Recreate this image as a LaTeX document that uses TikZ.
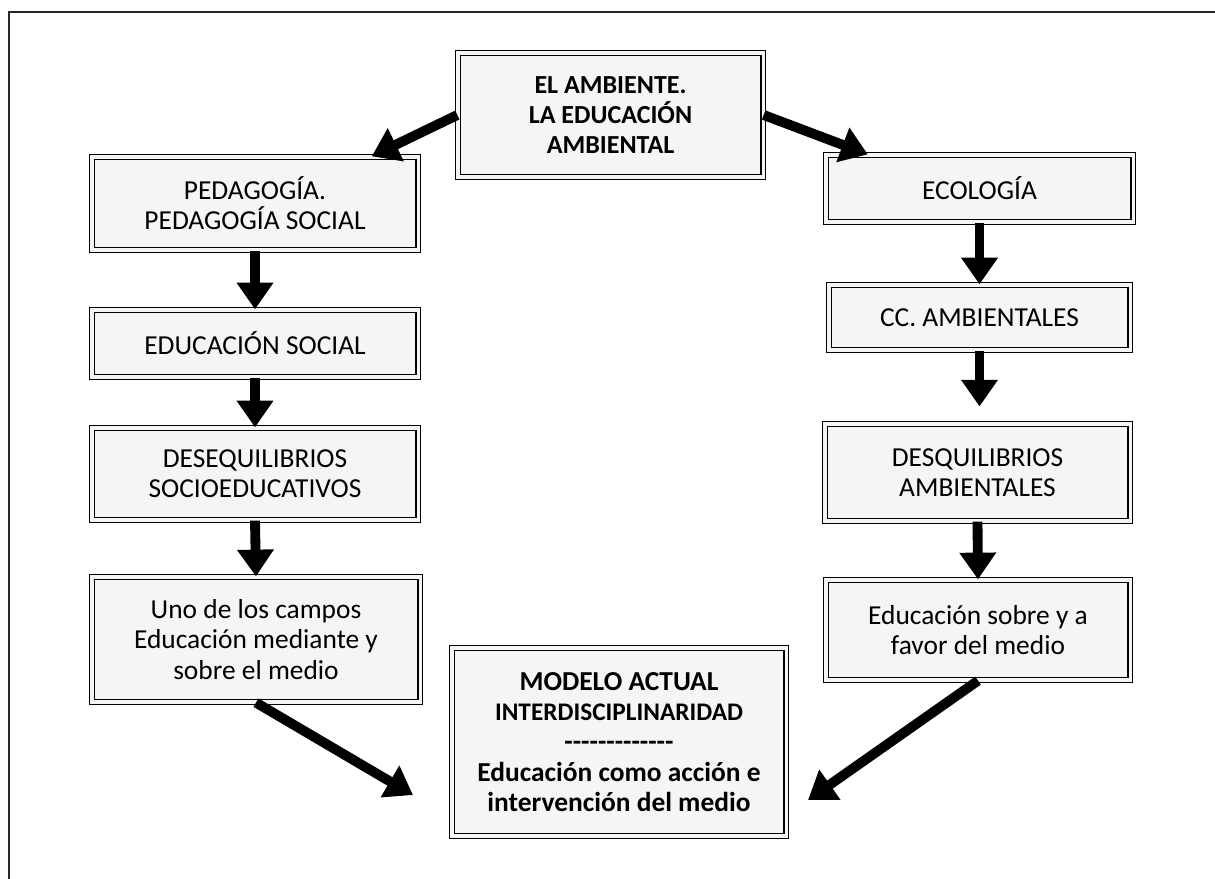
\documentclass[tikz,border=0pt]{standalone}
\usepackage{fontspec}
\setmainfont{Carlito}
\usetikzlibrary{arrows.meta}
\tikzset{
  caja/.style={draw=black, line width=0.9pt, double=gray!8, double distance=2.2pt,
    fill=gray!8, align=center, inner sep=0pt,
    font=\fontsize{19.5}{21.5}\selectfont},
  flecha/.style={line width=7pt, -{Triangle[width=25pt,length=19pt]}}
}
\begin{document}
\begin{tikzpicture}[x=0.025cm,y=-0.025cm]
\useasboundingbox (0,0) rectangle (1215,879);
\draw[line width=1.6pt, black!85] (9,879) -- (9,12) -- (1215,12);
% cajas
\node[caja, font=\fontsize{18.5}{21.5}\selectfont\bfseries, minimum width=7.625cm, minimum height=3.1cm] (amb) at (610.5,115) {EL AMBIENTE.\\ LA EDUCACIÓN\\ AMBIENTAL};
\node[caja, minimum width=8.15cm, minimum height=2.325cm] (ped) at (255,203.5) {PEDAGOGÍA.\\ PEDAGOGÍA SOCIAL};
\node[caja, minimum width=8.15cm, minimum height=1.675cm] (edsoc) at (255,343.5) {EDUCACIÓN SOCIAL};
\node[caja, minimum width=8.15cm, minimum height=2.3cm] (desqs) at (255,474) {DESEQUILIBRIOS\\ SOCIOEDUCATIVOS};
\node[caja, minimum width=8.2cm, minimum height=3.125cm] (uno) at (256,639.5) {Uno de los campos\\ Educación mediante y\\ sobre el medio};
\node[caja, minimum width=7.675cm, minimum height=1.675cm] (ecol) at (979.5,188.5) {ECOLOGÍA};
\node[caja, minimum width=7.525cm, minimum height=1.625cm] (cc) at (979.5,317.5) {CC. AMBIENTALES};
\node[caja, minimum width=7.625cm, minimum height=2.425cm] (desqa) at (977.5,472.5) {DESQUILIBRIOS\\ AMBIENTALES};
\node[caja, minimum width=7.6cm, minimum height=2.5cm] (favor) at (978,630) {Educación sobre y a\\ favor del medio};
\node[caja, font=\fontsize{19.5}{21.5}\selectfont\bfseries, minimum width=8.35cm, minimum height=4.7cm] (modelo) at (619,742)
  {MODELO ACTUAL\\ {\fontsize{18}{21.5}\selectfont INTERDISCIPLINARIDAD}\\
   -{}-{}-{}-{}-{}-{}-{}-{}-{}-{}-{}-{}-\\ Educación como acción e\\ intervención del medio};
% flechas
\coordinate (finI) at (413,795);
\coordinate (finD) at (808,800);
\draw[flecha] (amb.west) -- (ped.22);
\draw[flecha] (amb.east) -- (ecol.163);
\draw[flecha] (ped.south) -- (edsoc.north);
\draw[flecha] (edsoc.south) -- (desqs.north);
\draw[flecha] (desqs.south) -- (uno.north);
\draw[flecha] (ecol.south) -- (cc.north);
\draw[flecha, shorten >=12pt] (cc.south) -- (cc.south |- desqa.north);
\draw[flecha] (desqa.south) -- (favor.north);
\draw[flecha] (uno.south) -- (finI);
\draw[flecha] (favor.south) -- (finD);
\end{tikzpicture}
\end{document}
